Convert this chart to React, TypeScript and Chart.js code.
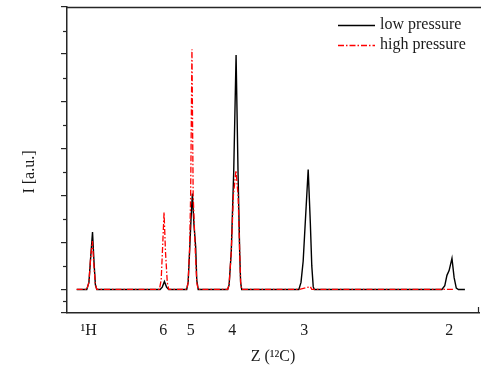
import React, { useEffect, useRef } from 'react';
import { Chart, registerables } from 'chart.js';

Chart.register(...registerables);

// ---- data (x = mass-to-charge position, y = intensity in a.u.) ----
const seriesNames = ['low pressure', 'high pressure'];
const tickLabels = ['¹H', '6', '5', '4', '3', '2'];
const tickPositions = [0.947, 1.985, 2.366, 2.944, 3.946, 5.961];

const lowPressureX = [0.78, 0.92, 0.95, 0.975, 1.0, 1.02, 1.04, 1.06, 1.94, 1.97, 2.0, 2.03, 2.06, 2.31, 2.33, 2.35, 2.37, 2.389, 2.41, 2.435, 2.45, 2.47, 2.88, 2.9, 2.93, 2.964, 2.997, 3.024, 3.047, 3.06, 3.075, 3.87, 3.9, 3.93, 3.955, 4.0, 4.03, 4.05, 4.07, 4.085, 5.86, 5.9, 5.93, 5.96, 6.0, 6.03, 6.06, 6.09, 6.18];
const lowPressureY = [0, 0, 0.15, 0.7, 1.22, 0.6, 0.1, 0, 0, 0.05, 0.17, 0.05, 0, 0, 0.15, 0.8, 1.5, 2.04, 1.4, 0.9, 0.2, 0, 0, 0.1, 0.8, 2.5, 4.98, 2.5, 0.8, 0.15, 0, 0, 0.15, 0.6, 1.3, 2.55, 1.4, 0.5, 0.06, 0, 0, 0.08, 0.3, 0.4, 0.66, 0.25, 0.03, 0, 0];

const highPressureX = [0.78, 0.92, 0.95, 0.975, 0.998, 1.02, 1.04, 1.06, 1.93, 1.955, 1.975, 1.995, 2.015, 2.04, 2.06, 2.31, 2.33, 2.35, 2.365, 2.383, 2.4, 2.43, 2.45, 2.47, 2.88, 2.9, 2.93, 2.96, 2.995, 3.025, 3.047, 3.06, 3.075, 3.88, 4.03, 4.05, 6.02];
const highPressureY = [0, 0, 0.15, 0.7, 1.03, 0.5, 0.1, 0, 0, 0.2, 0.9, 1.64, 0.8, 0.15, 0, 0, 0.15, 0.85, 2.0, 5.1, 2.0, 0.8, 0.15, 0, 0, 0.1, 0.8, 2.0, 2.53, 2.0, 0.8, 0.15, 0, 0, 0.06, 0, 0];

const xMin = 0.645;
const xMax = 6.376;
const yMin = -0.5;
const yMax = 6;

const axisColor = '#262626';
const textColor = '#1a1a1a';
const serif = "'Liberation Serif', 'Times New Roman', serif";

const decorPlugin = {
  id: 'decor',
  afterDraw(chart: any) {
    const { ctx, chartArea, scales } = chart;
    const ys = scales.y;
    ctx.save();
    ctx.strokeStyle = axisColor;
    ctx.lineWidth = 1.2;
    // minor y ticks at midpoints of major ticks
    const t = ys.ticks;
    for (let i = 0; i < t.length - 1; i++) {
      const v = (t[i].value + t[i + 1].value) / 2;
      if (Math.abs(v - Math.round(v)) < 1e-6) continue;
      const py = Math.round(ys.getPixelForValue(v)) + 0.5;
      ctx.beginPath();
      ctx.moveTo(chartArea.left - 4, py);
      ctx.lineTo(chartArea.left, py);
      ctx.stroke();
    }
    // top frame line
    ctx.lineWidth = 1.5;
    ctx.beginPath();
    ctx.moveTo(chartArea.left, chartArea.top + 0.5);
    ctx.lineTo(chart.width, chartArea.top + 0.5);
    ctx.stroke();
    // end tick of x axis
    ctx.lineWidth = 1.2;
    ctx.beginPath();
    ctx.moveTo(chartArea.right - 0.5, chartArea.bottom);
    ctx.lineTo(chartArea.right - 0.5, chartArea.bottom - 6);
    ctx.stroke();
    // legend
    const ds = chart.data.datasets;
    const order = [0, 1];
    ctx.font = `16px ${serif}`;
    ctx.textBaseline = 'middle';
    ctx.textAlign = 'left';
    order.forEach((di, row) => {
      const d = ds[di];
      const cy = chartArea.top + 18 + row * 20;
      ctx.strokeStyle = d.borderColor;
      ctx.lineWidth = d.borderWidth;
      ctx.setLineDash(d.borderDash || []);
      ctx.beginPath();
      ctx.moveTo(chartArea.right - 141, cy + 0.5);
      ctx.lineTo(chartArea.right - 104, cy + 0.5);
      ctx.stroke();
      ctx.setLineDash([]);
      ctx.fillStyle = textColor;
      ctx.fillText(d.label, chartArea.right - 99, cy);
    });
    ctx.restore();
  },
};

export default function App() {
  const ref = useRef<HTMLCanvasElement | null>(null);

  useEffect(() => {
    document.body.style.margin = '0';
    const canvas = ref.current;
    if (!canvas) return;
    const lowData = lowPressureX.map((x, i) => ({ x, y: lowPressureY[i] }));
    const highData = highPressureX.map((x, i) => ({ x, y: highPressureY[i] }));
    const chart = new Chart(canvas, {
      type: 'line',
      data: {
        datasets: [
          {
            label: seriesNames[0],
            data: lowData,
            borderColor: '#000000',
            borderWidth: 1.4,
            pointRadius: 0,
            tension: 0,
            fill: false,
            order: 1,
          },
          {
            label: seriesNames[1],
            data: highData,
            borderColor: '#ff0000',
            borderWidth: 1.3,
            borderDash: [6, 2, 1.5, 2],
            pointRadius: 0,
            tension: 0,
            fill: false,
            order: 0,
          },
        ],
      },
      options: {
        responsive: false,
        animation: false,
        layout: { padding: { top: 7, right: 2, left: 0, bottom: 0 } },
        plugins: {
          legend: { display: false },
          tooltip: { enabled: false },
        },
        scales: {
          x: {
            type: 'linear',
            min: xMin,
            max: xMax,
            afterBuildTicks: (s: any) => {
              s.ticks = tickPositions.map((v) => ({ value: v }));
            },
            afterFit: (s: any) => {
              s.height = 68;
            },
            grid: { display: false, drawTicks: false },
            border: { display: true, color: axisColor, width: 1.5 },
            ticks: {
              autoSkip: false,
              maxRotation: 0,
              padding: 8,
              color: textColor,
              font: { family: serif, size: 16 },
              callback: (_v: any, i: number) => tickLabels[i],
            },
            title: {
              display: true,
              text: 'Z (¹²C)',
              color: textColor,
              font: { family: serif, size: 16 },
              padding: { top: 0, bottom: 15 },
            },
          },
          y: {
            type: 'linear',
            min: yMin,
            max: yMax,
            afterFit: (s: any) => {
              s.width = 67;
            },
            ticks: { display: false, stepSize: 1 },
            grid: {
              display: true,
              drawOnChartArea: false,
              drawTicks: true,
              tickLength: 6,
              color: axisColor,
              lineWidth: 1.2,
            },
            border: { display: true, color: axisColor, width: 1.5 },
            title: {
              display: true,
              text: 'I [a.u.]      ',
              color: textColor,
              font: { family: serif, size: 16 },
              padding: { top: 20, bottom: 0 },
            },
          },
        },
      },
      plugins: [decorPlugin],
    });
    return () => chart.destroy();
  }, []);

  return (
    <div style={{ width: 481, height: 381, background: '#ffffff' }}>
      <canvas ref={ref} width={481} height={381} />
    </div>
  );
}
